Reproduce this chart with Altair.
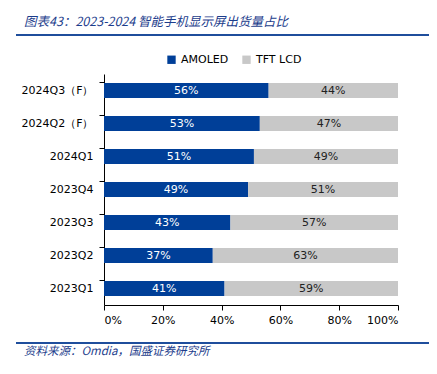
import altair as alt
import pandas as pd

categories = ["2024Q3（F）", "2024Q2（F）", "2024Q1", "2023Q4", "2023Q3", "2023Q2", "2023Q1"]
amoled = [56, 53, 51, 49, 43, 37, 41]
tft_lcd = [44, 47, 49, 51, 57, 63, 59]
series = ["AMOLED", "TFT LCD"]
colors = ["#003f98", "#c8c8c8"]
x_ticks = [0, 20, 40, 60, 80, 100]

rows = []
for c, a, t in zip(categories, amoled, tft_lcd):
    rows.append({"cat": c, "series": "AMOLED", "order": 0, "v": a})
    rows.append({"cat": c, "series": "TFT LCD", "order": 1, "v": t})
df = pd.DataFrame(rows)

FONT = "DejaVu Sans"
CJK = "Noto Sans CJK SC"

base = alt.Chart(df).transform_stack(
    stack="v", groupby=["cat"], as_=["v0", "v1"], sort=[alt.SortField("order")]
).transform_calculate(mid="(datum.v0 + datum.v1) / 2", lbl="datum.v + '%'")

y_enc = alt.Y("cat:N", sort=categories, title=None,
              scale=alt.Scale(paddingInner=0.54, paddingOuter=0.27),
              axis=alt.Axis(labelFont=FONT, labelFontSize=11, labelColor="#000000",
                            domainColor="#000000", tickColor="#000000", tickSize=5,
                            bandPosition=0, labelPadding=6))

bars = base.mark_bar().encode(
    y=y_enc,
    x=alt.X("v0:Q", scale=alt.Scale(domain=[0, 100], nice=False), title=None,
            axis=alt.Axis(values=x_ticks, labelExpr="datum.value + '%'", grid=False,
                          labelFont=FONT, labelFontSize=11, labelColor="#000000",
                          domainColor="#000000", tickColor="#000000", tickSize=5,
                          labelPadding=4)),
    x2="v1:Q",
    color=alt.Color("series:N", scale=alt.Scale(domain=series, range=colors), title=None,
                    legend=alt.Legend(orient="none", legendX=62, legendY=-20,
                                      direction="horizontal", symbolType="square",
                                      symbolSize=70, symbolStrokeWidth=0,
                                      labelFont=FONT, labelFontSize=11, labelColor="#000000",
                                      columnPadding=12, symbolOffset=0)),
)

labels = base.mark_text(font=FONT, fontSize=11).encode(
    y=alt.Y("cat:N", sort=categories),
    x=alt.X("mid:Q"),
    text="lbl:N",
    color=alt.Color("series:N", scale=alt.Scale(domain=series, range=["#ffffff", "#222222"]),
                    legend=None),
)

title_txt = alt.Chart(pd.DataFrame({"t": ["图表43：2023-2024 智能手机显示屏出货量占比"]})).mark_text(
    font=CJK, fontSize=12.5, fontStyle="italic", fontWeight="normal", color="#1c3d8c",
    align="left", baseline="middle"
).encode(x=alt.value(-80), y=alt.value(-52), text="t:N")

source_txt = alt.Chart(pd.DataFrame({"t": ["资料来源：Omdia，国盛证券研究所"]})).mark_text(
    font=CJK, fontSize=11.5, fontStyle="italic", color="#1c3d8c",
    align="left", baseline="middle"
).encode(x=alt.value(-80), y=alt.value(278), text="t:N")

line_top = alt.Chart(pd.DataFrame({"a": [0]})).mark_rule(color="#1f4e9c", strokeWidth=2).encode(
    x=alt.value(-88), x2=alt.value(326), y=alt.value(-39))
line_bot = alt.Chart(pd.DataFrame({"a": [0]})).mark_rule(color="#1f4e9c", strokeWidth=2).encode(
    x=alt.value(-88), x2=alt.value(326), y=alt.value(269))

chart = alt.layer(bars, labels, title_txt, source_txt, line_top, line_bot).resolve_scale(
    color="independent"
).properties(
    width=294, height=231,
    autosize=alt.AutoSizeParams(type="none"),
    padding={"left": 96, "top": 66, "right": 31, "bottom": 61},
).configure_view(stroke=None).configure_axis(domainWidth=1)

chart.save("out.html", embed_options={"renderer": "svg", "actions": False})
